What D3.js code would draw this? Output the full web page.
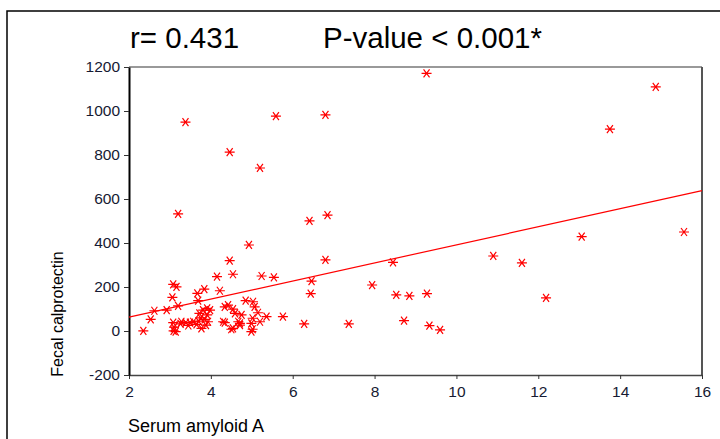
<!DOCTYPE html>
<html><head><meta charset="utf-8">
<script src="https://cdn.jsdelivr.net/npm/d3@7"></script>
<style>body{margin:0;background:#fff}svg{display:block}text{font-family:"Liberation Sans",Arial,sans-serif}</style>
</head><body><svg id="c" width="720" height="439"></svg>
<script>
const samX = [9.27,6.80,14.87,13.75,3.38,4.46,5.59,5.20,3.20,6.41,6.85,4.93,6.80,4.46,6.46,6.44,8.45,7.94,8.53,8.85,9.28,5.76,6.28,7.37,8.72,9.34,9.60,10.90,11.60,12.19,13.06,15.56,4.15,4.54,5.24,5.54,3.08,3.16,3.06,3.20,3.67,3.84,3.69,4.22,2.62,2.92,2.53,2.35,3.08,3.10,3.09,3.14,3.28,3.49,3.57,3.72,3.81,3.91,3.85,3.88,3.77,3.93,3.91,4.30,4.34,4.42,4.54,4.59,4.67,4.54,4.75,4.71,4.85,5.03,5.07,5.15,5.02,5.20,4.99,5.02,5.36,3.26,3.39,3.65,3.70,3.75,4.50,4.99,4.71,4.34,3.98,3.45];
const fcal = [1171,982,1110,918,949,813,977,741,532,501,527,391,323,320,227,170,312,209,164,160,170,65,32,32,47,24,5,341,310,151,429,450,247,258,250,244,212,201,153,114,171,190,138,183,92,95,53,1,38,18,1,-3,42,38,42,80,95,103,53,27,12,42,73,42,110,118,99,80,42,12,73,35,138,133,110,83,58,42,35,8,65,32,38,30,45,60,8,-3,27,38,95,25];
const fitX = [2,16];
const fitY = [63,638];
const xTicks = [2,4,6,8,10,12,14,16];
const yTicks = [-200,0,200,400,600,800,1000,1200];
const titleR = "r= 0.431";
const titleP = "P-value < 0.001*";
const xLabel = "Serum amyloid A";
const yLabel = "Fecal calprotectin";

const svg = d3.select("#c");
const L=129,R=702,T=67,B=375;
const x = d3.scaleLinear().domain([2,16]).range([L,R]);
const y = d3.scaleLinear().domain([-200,1200]).range([B,T]);

// outer border
svg.append("path").attr("d","M7,439V11H720").attr("fill","none").attr("stroke","#000").attr("stroke-width",1.5);

// titles
svg.append("text").attr("x",130).attr("y",48).attr("font-size",29.5).attr("fill","#000").text(titleR);
svg.append("text").attr("x",323).attr("y",48).attr("font-size",29.5).attr("fill","#000").text(titleP);

// frame top/right
svg.append("line").attr("x1",L).attr("x2",R).attr("y1",T).attr("y2",T).attr("stroke","#777").attr("stroke-width",1.3);
svg.append("line").attr("x1",R).attr("x2",R).attr("y1",T).attr("y2",B).attr("stroke","#555").attr("stroke-width",2);

// axes
const fmt = d => String(d);
const xa = svg.append("g").attr("transform",`translate(0,${B})`)
  .call(d3.axisBottom(x).tickValues(xTicks).tickSize(4).tickSizeOuter(0).tickFormat(fmt));
const ya = svg.append("g").attr("transform",`translate(${L},0)`)
  .call(d3.axisLeft(y).tickValues(yTicks).tickSize(5).tickSizeOuter(0).tickFormat(fmt));
[xa,ya].forEach(g=>{
  g.selectAll("text").attr("font-size",15.5).attr("fill","#161a33").attr("font-family","Liberation Sans, Arial, sans-serif");
  g.selectAll("line").attr("stroke","#333");
});
xa.select(".domain").attr("stroke","#444").attr("stroke-width",1.5);
ya.select(".domain").attr("stroke","#000").attr("stroke-width",2);
xa.selectAll("text").attr("dy","0.95em");
ya.selectAll("text").attr("dx","-1");

// axis labels
svg.append("text").attr("x",128).attr("y",432).attr("font-size",18).attr("fill","#000").text(xLabel);
svg.append("text").attr("transform","translate(63,314) rotate(-90)").attr("text-anchor","middle").attr("font-size",16).attr("fill","#000").text(yLabel);

// fit line
const line = d3.line().x(d=>x(d[0])).y(d=>y(d[1]));
svg.append("path").attr("d",line(fitX.map((v,i)=>[v,fitY[i]]))).attr("stroke","#ff0000").attr("stroke-width",1.2).attr("fill","none");

// points
const star = "M-5,0H5M-3,-4L3,4M-3,4L3,-4";
svg.append("g").selectAll("path").data(samX.map((v,i)=>[v,fcal[i]])).join("path")
  .attr("transform",d=>`translate(${x(d[0])},${y(d[1])})`)
  .attr("d",star).attr("stroke","#ff0000").attr("stroke-width",1.2).attr("fill","none");
</script></body></html>
